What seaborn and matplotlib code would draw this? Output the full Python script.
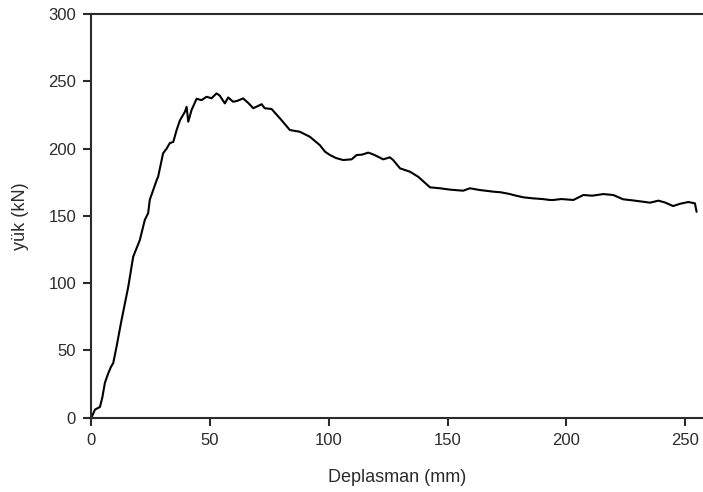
import matplotlib
matplotlib.use("Agg")
import matplotlib.pyplot as plt
import seaborn as sns
import pandas as pd

deplasman = [0.0, 1.5, 3.6, 4.6, 5.7, 7.1, 8.3, 9.2, 10.6, 12.7, 15.5, 17.6, 20.4,
             22.5, 23.9, 24.6, 26.0, 27.5, 28.1, 30.2, 31.7, 33.0, 34.5, 35.9, 37.3,
             39.4, 40.1, 40.8, 42.2, 44.3, 46.4, 48.5, 50.6, 52.7, 54.0, 56.2, 57.6,
             59.7, 61.5, 63.9, 66.0, 68.2, 70.0, 71.7, 73.0, 75.9, 79.4, 83.6, 87.8,
             92.0, 96.2, 98.4, 100.5, 103.0, 106.0, 109.6, 111.7, 114.0, 116.6, 118.5,
             120.1, 122.9, 125.7, 127.1, 130.0, 134.2, 137.7, 142.6, 146.8, 151.0,
             156.6, 159.4, 163.6, 169.2, 172.5, 176.3, 177.7, 181.9, 186.1, 190.0,
             193.1, 194.5, 198.0, 203.0, 207.2, 211.0, 215.6, 219.8, 224.0, 228.0,
             232.4, 235.3, 238.8, 241.5, 245.0, 248.0, 251.4, 254.2, 254.9]
yuk = [0.0, 6.0, 8.0, 15.0, 26.0, 33.0, 38.0, 40.6, 52.8, 72.6, 97.0, 119.6, 132.0,
       147.0, 152.0, 162.0, 169.0, 176.6, 179.0, 196.5, 200.0, 204.0, 205.0, 213.8, 221.0,
       227.4, 231.0, 220.0, 228.7, 237.0, 236.0, 238.5, 237.4, 241.0, 239.5, 233.6, 238.0,
       234.8, 235.5, 237.3, 234.0, 230.0, 231.5, 233.0, 230.0, 229.4, 222.5, 213.8, 212.5,
       208.8, 202.6, 197.7, 195.2, 193.0, 191.5, 192.0, 195.2, 195.5, 197.0, 195.8,
       194.5, 192.0, 193.5, 191.5, 185.3, 182.8, 179.0, 171.2, 170.5, 169.5,
       168.7, 170.5, 169.2, 168.0, 167.5, 166.2, 165.5, 163.8, 163.0, 162.5,
       161.8, 161.8, 162.5, 161.8, 165.5, 165.0, 166.2, 165.5, 162.3, 161.5,
       160.5, 159.8, 161.3, 160.0, 157.3, 159.0, 160.3, 159.3, 153.0]

xticks = [0, 50, 100, 150, 200, 250]
yticks = [0, 50, 100, 150, 200, 250, 300]

df = pd.DataFrame({"Deplasman (mm)": deplasman, "yük (kN)": yuk})

sns.set_style("white")
plt.rcParams["font.family"] = ["Liberation Sans", "DejaVu Sans"]

fig = plt.figure(figsize=(7.03, 4.92), dpi=100)
ax = fig.add_axes([0.130, 0.151, 0.870, 0.8205])

sns.lineplot(data=df, x="Deplasman (mm)", y="yük (kN)", estimator=None, sort=False,
             color="black", linewidth=1.5, ax=ax)

ax.set_xlim(0, 257.6)
ax.set_ylim(0, 300)
ax.set_xticks(xticks)
ax.set_yticks(yticks)
ax.set_xticklabels([str(t) for t in xticks])
ax.set_yticklabels([str(t) for t in yticks])

gray = "#2b2b2b"
for side in ["left", "bottom", "top"]:
    ax.spines[side].set_visible(True)
    ax.spines[side].set_color(gray)
    ax.spines[side].set_linewidth(1.5)
ax.spines["right"].set_visible(False)

ax.tick_params(axis="both", which="major", direction="out", length=6, width=1.5,
               color=gray, labelcolor=gray, labelsize=12, pad=5)
ax.tick_params(axis="x", top=False, bottom=True)
ax.tick_params(axis="y", left=True, right=False)

ax.set_xlabel("Deplasman (mm)", fontsize=13, color=gray, labelpad=15)
ax.set_ylabel("yük (kN)", fontsize=13, color=gray, labelpad=14)

fig.savefig("out.png", dpi=100)
